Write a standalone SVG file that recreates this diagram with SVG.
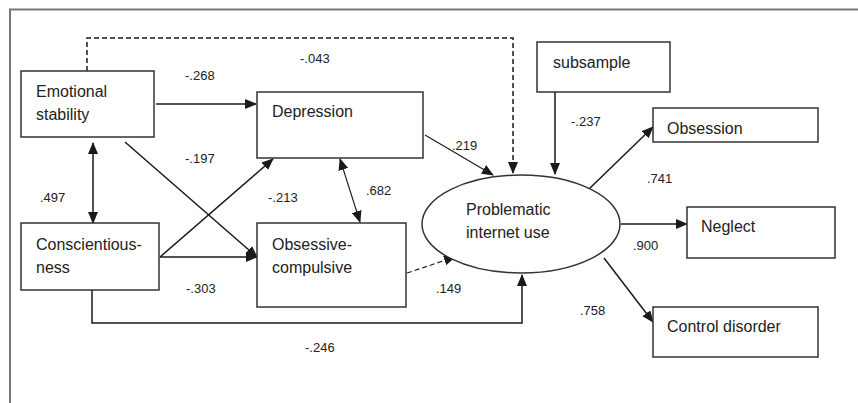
<svg xmlns="http://www.w3.org/2000/svg" width="858" height="403" viewBox="0 0 858 403">
<defs>
<marker id="ah" markerUnits="userSpaceOnUse" markerWidth="12" markerHeight="10" viewBox="0 0 12 10" refX="11" refY="5" orient="auto-start-reverse">
<path d="M0,0 L12,5 L0,10 Z" fill="#1a1a1a"/>
</marker>
</defs>
<style>
.box{fill:#fff;stroke:#333;stroke-width:1.5}
.t{font-family:"Liberation Sans",Arial,sans-serif;font-size:16px;fill:#222}
.l{font-family:"Liberation Sans",Arial,sans-serif;font-size:13px;fill:#222}
.c{fill:none;stroke:#1a1a1a;stroke-width:1.5}
.thin{stroke-width:1.1}
.d{stroke-dasharray:5,3}
</style>
<rect width="858" height="403" fill="#fff"/>
<path d="M10,403 V9.5 H858" fill="none" stroke="#777" stroke-width="2"/>
<g id="connectors">
<path class="c d" d="M87,71 V38 H513 V173" marker-end="url(#ah)"/>
<path class="c" d="M156,104 H256" marker-end="url(#ah)"/>
<path class="c" d="M125,142 L257,257" marker-end="url(#ah)"/>
<path class="c" d="M160,257 L257,257" marker-end="url(#ah)"/>
<path class="c" d="M160,257 L273,159" marker-end="url(#ah)"/>
<path class="c" d="M93,143 V223" marker-start="url(#ah)" marker-end="url(#ah)"/>
<path class="c thin" d="M340,159 L360,222" marker-start="url(#ah)" marker-end="url(#ah)"/>
<path class="c" d="M92,290 V323 H522 V275" marker-end="url(#ah)"/>
<path class="c thin" d="M425,135 L493,175" marker-end="url(#ah)"/>
<path class="c thin d" d="M407,273 L455,257" marker-end="url(#ah)"/>
<path class="c" d="M555,92 V174" marker-end="url(#ah)"/>
<path class="c" d="M589,189 L653,127" marker-end="url(#ah)"/>
<path class="c" d="M621,224 H687" marker-end="url(#ah)"/>
<path class="c" d="M604,258 L653,322" marker-end="url(#ah)"/>
</g>
<g id="labels">
<text class="l" x="185" y="80">-.268</text>
<text class="l" x="300" y="63">-.043</text>
<text class="l" x="185" y="163">-.197</text>
<text class="l" x="40" y="202">.497</text>
<text class="l" x="268" y="202">-.213</text>
<text class="l" x="366" y="195">.682</text>
<text class="l" x="186" y="293">-.303</text>
<text class="l" x="452" y="150">.219</text>
<text class="l" x="436" y="293">.149</text>
<text class="l" x="305" y="352">-.246</text>
<text class="l" x="571" y="126">-.237</text>
<text class="l" x="647" y="183">.741</text>
<text class="l" x="633" y="250">.900</text>
<text class="l" x="580" y="315">.758</text>
</g>
<g id="emotional-stability">
<rect class="box" x="21" y="71" width="133" height="66"/>
<text class="t" x="36" y="97">Emotional</text>
<text class="t" x="36" y="120">stability</text>
</g>
<g id="depression">
<rect class="box" x="257" y="92" width="166" height="66"/>
<text class="t" x="272" y="117">Depression</text>
</g>
<g id="conscientiousness">
<rect class="box" x="21" y="223" width="138" height="67"/>
<text class="t" x="36" y="250">Conscientious-</text>
<text class="t" x="36" y="273">ness</text>
</g>
<g id="obsessive-compulsive">
<rect class="box" x="257" y="223" width="149" height="84"/>
<text class="t" x="272" y="250">Obsessive-</text>
<text class="t" x="272" y="273">compulsive</text>
</g>
<g id="problematic-internet-use">
<ellipse class="box" cx="521" cy="224" rx="99" ry="49"/>
<text class="t" x="466" y="215">Problematic</text>
<text class="t" x="466" y="238">internet use</text>
</g>
<g id="subsample">
<rect class="box" x="537" y="42" width="133" height="50"/>
<text class="t" x="553" y="68">subsample</text>
</g>
<g id="obsession">
<rect class="box" x="653" y="108" width="165" height="34"/>
<text class="t" x="667" y="134">Obsession</text>
</g>
<g id="neglect">
<rect class="box" x="687" y="207" width="148" height="51"/>
<text class="t" x="701" y="232">Neglect</text>
</g>
<g id="control-disorder">
<rect class="box" x="653" y="307" width="165" height="50"/>
<text class="t" x="667" y="332">Control disorder</text>
</g>
</svg>
